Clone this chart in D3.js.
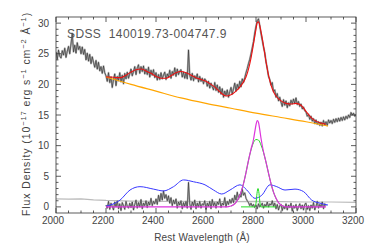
<!DOCTYPE html>
<html>
<head>
<meta charset="utf-8">
<script src="https://cdn.jsdelivr.net/npm/d3@7"></script>
<style>
  body { margin: 0; background: #fff; }
  svg { display: block; font-family: "Liberation Sans", Arial, sans-serif; }
</style>
</head>
<body>
<div id="chart"></div>
<script>
// spectrum, 2000-3200 A every 5 A
const specStart = 2000, specStep = 5;
const specFlux = [
  25.3, 24.1, 25.6, 24.6, 24.3, 25.5, 24.8, 25.9, 24.4, 25.4, 26.2, 25.0, 26.6, 28.3, 25.3, 26.4, 25.1, 26.8, 25.7, 26.2,
  25.0, 26.1, 24.9, 25.7, 24.0, 25.1, 23.8, 24.9, 23.4, 24.5, 23.6, 22.8, 23.9, 22.5, 23.6, 22.2, 22.9, 21.8, 23.0, 21.9,
  21.4, 20.5, 21.9, 20.3, 21.2, 19.5, 20.8, 21.7, 19.8, 21.3, 20.6, 21.9, 20.4, 21.5, 20.1, 21.8, 20.9, 22.0, 21.0, 21.7,
  22.5, 21.4, 22.1, 22.9, 21.6, 22.7, 23.2, 21.8, 22.9, 22.1, 23.0, 21.7, 22.5, 21.6, 22.8, 21.2, 22.3, 21.5, 22.4, 21.1,
  21.9, 20.7, 21.6, 20.8, 21.9, 20.9, 21.5, 22.0, 20.8, 21.7, 21.2, 22.3, 21.0, 22.1, 21.5, 22.7, 21.3, 22.5, 21.6, 22.2,
  22.4, 21.2, 22.0, 21.0, 21.9, 20.9, 25.6, 21.5, 20.7, 21.8, 20.6, 21.4, 20.9, 21.7, 20.4, 21.3, 20.5, 21.0, 20.1, 20.9,
  20.6, 19.7, 20.5, 19.4, 20.2, 19.6, 19.1, 20.3, 19.0, 19.9, 18.7, 19.6, 18.4, 19.3, 17.9, 18.9, 18.2, 19.1, 17.9, 18.8,
  19.5, 18.4, 19.3, 20.2, 18.9, 20.0, 19.3, 20.5, 19.6, 20.9, 20.3, 21.1, 21.9, 22.6, 23.4, 24.1, 25.0, 26.0, 27.0, 28.4,
  29.5, 30.4, 30.7, 29.6, 28.3, 27.2, 26.1, 25.2, 23.7, 22.6, 21.3, 20.8, 19.9, 20.3, 18.8, 19.1, 17.9, 18.5, 17.3, 17.9,
  17.1, 16.4, 17.5, 16.6, 17.3, 16.2, 17.0, 16.5, 17.4, 16.8, 17.6, 16.9, 17.8, 16.7, 17.2, 16.4, 16.8, 16.0, 16.3, 15.7,
  15.5, 14.8, 15.1, 14.3, 14.8, 14.0, 14.4, 13.6, 14.2, 13.5, 13.9, 13.3, 13.8, 13.2, 14.1, 13.4, 13.9, 13.3, 14.2, 13.7,
  14.1, 13.6, 14.3, 13.8, 14.4, 13.9, 14.5, 14.0, 14.6, 14.1, 14.7, 14.2, 14.8, 14.4, 15.0, 14.6, 15.4, 15.0, 15.3, 14.8,
  15.1
];

// total model fit
const fitWave = [2200, 2220, 2240, 2260, 2280, 2300, 2320, 2340, 2360, 2380, 2400, 2420, 2440, 2460, 2480, 2500, 2520, 2540, 2560, 2580, 2600, 2620, 2640, 2660, 2680, 2700, 2720, 2740, 2760, 2770, 2780, 2790, 2800, 2805, 2810, 2820, 2830, 2840, 2850, 2860, 2870, 2880, 2900, 2920, 2940, 2960, 2980, 3000, 3020, 3040, 3060, 3080];
const fitFlux = [21.2, 21.2, 21.1, 21.1, 21.5, 22.0, 22.4, 22.5, 22.2, 21.8, 21.3, 21.0, 21.0, 21.4, 21.9, 22.1, 21.9, 21.5, 21.1, 20.8, 20.5, 20.0, 19.4, 18.6, 18.1, 18.3, 18.9, 19.8, 21.2, 22.5, 24.3, 26.6, 29.0, 30.1, 30.2, 28.6, 26.3, 23.7, 21.5, 19.9, 18.8, 18.1, 17.3, 16.9, 16.8, 16.9, 16.6, 15.6, 14.6, 14.0, 13.7, 13.5];

// power-law continuum
const contWave = [2200, 2300, 2400, 2500, 2600, 2700, 2800, 2900, 3000, 3088];
const contFlux = [21.2, 20.0, 18.9, 17.8, 16.9, 16.1, 15.3, 14.6, 13.9, 13.2];

// Fe II template
const feWave = [2200, 2256, 2296, 2336, 2390, 2430, 2470, 2510, 2550, 2596, 2630, 2663, 2696, 2736, 2763, 2796, 2823, 2856, 2883, 2916, 2956, 2990, 3023, 3056, 3088];
const feFlux = [0.1, 1.1, 2.75, 3.3, 2.9, 2.6, 3.3, 4.4, 4.1, 3.6, 2.75, 2.1, 2.75, 3.6, 2.75, 1.4, 1.9, 3.6, 3.3, 2.75, 2.9, 2.5, 1.1, 0.6, 0.3];

// Mg II total line profile
const mgWave = [2200, 2680, 2690, 2700, 2710, 2720, 2730, 2740, 2750, 2760, 2770, 2780, 2790, 2795, 2800, 2805, 2810, 2815, 2820, 2830, 2840, 2850, 2860, 2870, 2880, 2890, 2900, 2910, 2920, 3080];
const mgFlux = [0, 0, 0.05, 0.15, 0.35, 0.75, 1.4, 2.4, 3.8, 5.6, 7.6, 9.4, 11.0, 12.2, 13.4, 14.1, 13.8, 12.6, 11.2, 9.0, 7.3, 5.5, 3.8, 2.4, 1.4, 0.7, 0.3, 0.1, 0, 0];

// Mg II broad and narrow components
const broadWave = [2700, 2710, 2720, 2730, 2740, 2750, 2760, 2770, 2780, 2790, 2800, 2810, 2820, 2830, 2840, 2850, 2860, 2870, 2880, 2890, 2900, 2910];
const broadFlux = [0.15, 0.35, 0.75, 1.4, 2.4, 3.8, 5.6, 7.6, 9.3, 10.5, 11.0, 10.9, 10.1, 8.9, 7.3, 5.5, 3.8, 2.4, 1.4, 0.7, 0.3, 0.1];
const narrowWave = [2740, 2795, 2800, 2804, 2808, 2812, 2816, 2821, 2880];
const narrowFlux = [0, 0, 0.6, 2.2, 3.0, 2.2, 0.6, 0, 0];

// residual after subtraction, 2200-3080 every 5 A
const resStart = 2200, resStep = 5;
const resFlux = [
  0.3, -0.2, 0.9, -0.4, 0.6, 0.1, -0.5, 0.8, 0.0, 1.0, -0.3, 0.5, -0.6, 0.7, 0.2, -0.4, 0.9, 0.1, -0.2, 0.6,
  -0.1, 0.8, -0.5, 0.4, 1.1, -0.2, 0.7, 0.0, 1.2, -0.3, 0.6, 0.2, 1.0, -0.1, 0.8, 0.3, 1.4, 0.2, 0.9, 0.5,
  1.3, 0.4, 1.9, 0.9, 2.2, 1.1, 2.6, 1.4, 2.0, 1.0, 1.8, 0.6, 1.5, 0.2, 1.1, 0.5, 1.3, -0.2, 0.8, 0.3,
  1.0, -0.3, 0.7, 0.1, 0.9, -0.2, 4.0, 0.5, -0.4, 0.8, 0.2, 1.1, -0.3, 0.6, 0.0, 0.9, -0.2, 0.5, 0.3, 1.0,
  -0.4, 0.6, 0.1, 0.9, -0.3, 1.2, 0.2, 0.7, -0.2, 0.8, 0.4, 1.3, -0.1, 0.6, 0.3, 1.5, 0.0, 0.9, 0.4, 1.2,
  0.6, 1.4, 0.7, 1.9, 1.1, 2.4, 1.3, 2.0, 1.6, 2.9, 1.9, 2.3, 1.4, 1.0, 0.7, 0.2, 0.6, 0.1, 0.4, -0.1,
  0.3, -0.3, 0.5, 0.0, 0.2, 0.6, -0.2, 0.4, 0.1, 0.8, 0.0, 0.5, 0.3, 1.0, 0.1, 0.6, -0.3, 0.4, -0.5, 0.2,
  0.4, -0.6, 0.1, -0.3, 0.5, -0.5, 0.3, -0.1, 0.6, -0.7, 0.2, -0.2, 0.4, -0.6, 0.0, 0.5, -0.3, 0.3, -0.5, 0.4,
  0.6, -0.4, 0.2, -0.6, 0.3, -0.2, 0.7, -0.5, 0.1, 0.9, -0.2, 0.4, 0.0, 0.8, -0.3, 0.5, 0.2
];

// error spectrum
const errWave = [2000, 2050, 2100, 2150, 2200, 2300, 2400, 2500, 2600, 2700, 2800, 2900, 3000, 3100, 3200];
const errFlux = [1.3, 1.25, 1.3, 1.15, 1.05, 0.95, 0.9, 0.9, 0.85, 0.85, 0.9, 0.85, 0.8, 0.8, 0.75];

const xTicks = [2000, 2200, 2400, 2600, 2800, 3000, 3200];
const yTicks = [0, 5, 10, 15, 20, 25, 30];
const title = 'SDSS  140019.73-004747.9';

const W = 374, H = 249;
const margin = { left: 56, right: 18, top: 17, bottom: 36 };

const svg = d3.select('#chart').append('svg')
    .attr('width', W)
    .attr('height', H);

const x = d3.scaleLinear().domain([2000, 3200]).range([margin.left, W - margin.right]);
const y = d3.scaleLinear().domain([-1, 31]).range([H - margin.bottom, margin.top]);

svg.append('clipPath').attr('id', 'clip')
    .append('rect')
    .attr('x', margin.left).attr('y', margin.top)
    .attr('width', W - margin.left - margin.right)
    .attr('height', H - margin.top - margin.bottom);
const plot = svg.append('g').attr('clip-path', 'url(#clip)');

const line = d3.line().x(d => x(d[0])).y(d => y(d[1]));
const smooth = d3.line().x(d => x(d[0])).y(d => y(d[1])).curve(d3.curveMonotoneX);
const pairs = (w, f) => w.map((v, i) => [v, f[i]]);
const spec = specFlux.map((v, i) => [specStart + i * specStep, v]);
const res = resFlux.map((v, i) => [resStart + i * resStep, v]);

function draw(data, color, width, gen = line) {
    plot.append('path')
        .attr('d', gen(data))
        .attr('fill', 'none')
        .attr('stroke', color)
        .attr('stroke-width', width)
        .attr('stroke-linejoin', 'round');
}

// error line, spectrum (gray under black), residual
draw(pairs(errWave, errFlux), '#bbb', 1.2);
draw(spec, '#b0b0b0', 1.9);
draw(spec, '#2a2a2a', 0.6);
draw(res, '#b4b4b4', 1.7);
draw(res, '#2a2a2a', 0.6);

// model components
draw(pairs(contWave, contFlux), '#ffa500', 1.1, smooth);
draw(pairs(fitWave, fitFlux), '#ee1111', 1.1, smooth);
draw(pairs(feWave, feFlux), '#3838ff', 1.0, smooth);
draw(pairs(narrowWave, narrowFlux), '#22dd22', 1.0, smooth);
draw(pairs(broadWave, broadFlux), '#22dd22', 1.0, smooth);
draw(pairs(mgWave, mgFlux), '#dd33dd', 1.2, smooth);

// frame and ticks, box style
const g = svg.append('g').attr('stroke', '#333').attr('stroke-width', 0.8);
g.append('rect')
    .attr('x', margin.left).attr('y', margin.top)
    .attr('width', W - margin.left - margin.right)
    .attr('height', H - margin.top - margin.bottom)
    .attr('fill', 'none');

const xMinor = d3.range(2000, 3201, 50);
const yMinor = d3.range(0, 31, 1);
const [y0, y1] = y.range();
const [x0, x1] = x.range();

xMinor.forEach(v => {
    const len = v % 200 === 0 ? 5 : 2.5;
    g.append('line').attr('x1', x(v)).attr('x2', x(v)).attr('y1', y0).attr('y2', y0 - len);
    g.append('line').attr('x1', x(v)).attr('x2', x(v)).attr('y1', y1).attr('y2', y1 + len);
});
yMinor.forEach(v => {
    const len = v % 5 === 0 ? 5 : 2.5;
    g.append('line').attr('x1', x0).attr('x2', x0 + len).attr('y1', y(v)).attr('y2', y(v));
    g.append('line').attr('x1', x1).attr('x2', x1 - len).attr('y1', y(v)).attr('y2', y(v));
});

// tick labels
svg.selectAll('text.xl')
    .data(xTicks)
    .enter()
    .append('text')
    .attr('class', 'xl')
    .attr('x', d => x(d) - 3)
    .attr('y', 224)
    .attr('text-anchor', 'middle')
    .attr('font-size', 10)
    .attr('fill', '#444')
    .text(d => d);

svg.selectAll('text.yl')
    .data(yTicks)
    .enter()
    .append('text')
    .attr('class', 'yl')
    .attr('x', 49)
    .attr('y', d => y(d) + 3.5)
    .attr('text-anchor', 'end')
    .attr('font-size', 10)
    .attr('fill', '#444')
    .text(d => d);

// axis titles
svg.append('text')
    .attr('x', 202)
    .attr('y', 241)
    .attr('text-anchor', 'middle')
    .attr('font-size', 10)
    .attr('letter-spacing', 0.2)
    .attr('fill', '#444')
    .text('Rest Wavelength (Å)');

const yl = svg.append('text')
    .attr('transform', 'translate(30,114) rotate(-90)')
    .attr('text-anchor', 'middle')
    .attr('font-size', 10.5)
    .attr('letter-spacing', 0.9)
    .attr('fill', '#444');
const parts = [
    ['Flux Density (10', 0], ['−17', 1], [' erg s', 0], ['−1', 1],
    [' cm', 0], ['−2', 1], [' Å', 0], ['−1', 1], [')', 0]
];
parts.forEach((p, i) => {
    const prevSup = i > 0 && parts[i - 1][1];
    let dy = 0;
    if (p[1] && !prevSup) dy = -4;
    if (!p[1] && prevSup) dy = 4;
    yl.append('tspan')
        .attr('dy', dy)
        .attr('font-size', p[1] ? 7.5 : 10.5)
        .text(p[0]);
});

// object name
svg.append('text')
    .attr('x', 67)
    .attr('y', 38)
    .attr('font-size', 12)
    .attr('letter-spacing', 0.4)
    .attr('fill', '#555')
    .style('white-space', 'pre')
    .text(title);
</script>
</body>
</html>
